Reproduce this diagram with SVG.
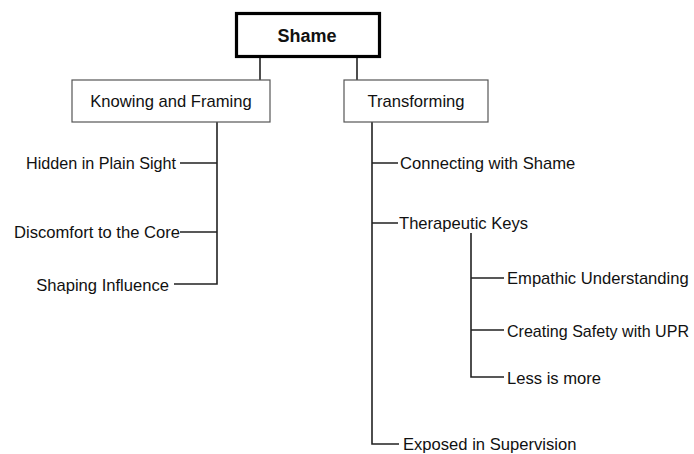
<svg xmlns="http://www.w3.org/2000/svg" width="694" height="454" viewBox="0 0 694 454">
<style>
text{font-family:"Liberation Sans",Arial,sans-serif;font-size:16.6px;fill:#111;dominant-baseline:central}
.c{stroke:#222;stroke-width:1.6;fill:none}
.box{fill:#fff;stroke:#555;stroke-width:1.2}
</style>
<rect width="694" height="454" fill="#fff"/>
<g id="connectors">
<path class="c" d="M260 58V80M357 58V80"/>
<path class="c" d="M217 122V284H174M180 163H217M180 232H217"/>
<path class="c" d="M372 122V444H399M372 163H398M372 223H398"/>
<path class="c" d="M471 233V377H504M471 278H504M471 330H504"/>
</g>
<g id="shame"><rect x="236.5" y="13.5" width="143" height="43" fill="#fff" stroke="#000" stroke-width="3.2"/><text x="307" y="36" text-anchor="middle" style="font-weight:bold;font-size:18px">Shame</text></g>
<g id="knowing"><rect class="box" x="72" y="80" width="198" height="42"/><text x="171" y="101" text-anchor="middle">Knowing and Framing</text></g>
<g id="transforming"><rect class="box" x="344" y="80" width="144" height="42"/><text x="416" y="101" text-anchor="middle">Transforming</text></g>
<g id="hidden"><text x="176" y="163" text-anchor="end" textLength="150" lengthAdjust="spacingAndGlyphs">Hidden in Plain Sight</text></g>
<g id="discomfort"><text x="180" y="232" text-anchor="end">Discomfort to the Core</text></g>
<g id="shaping"><text x="169" y="285" text-anchor="end">Shaping Influence</text></g>
<g id="connecting"><text x="400" y="163">Connecting with Shame</text></g>
<g id="therapeutic"><text x="399" y="223">Therapeutic Keys</text></g>
<g id="empathic"><text x="507" y="278">Empathic Understanding</text></g>
<g id="creating"><text x="507" y="331" textLength="182" lengthAdjust="spacingAndGlyphs">Creating Safety with UPR</text></g>
<g id="less"><text x="507" y="378">Less is more</text></g>
<g id="exposed"><text x="403" y="444">Exposed in Supervision</text></g>
</svg>
